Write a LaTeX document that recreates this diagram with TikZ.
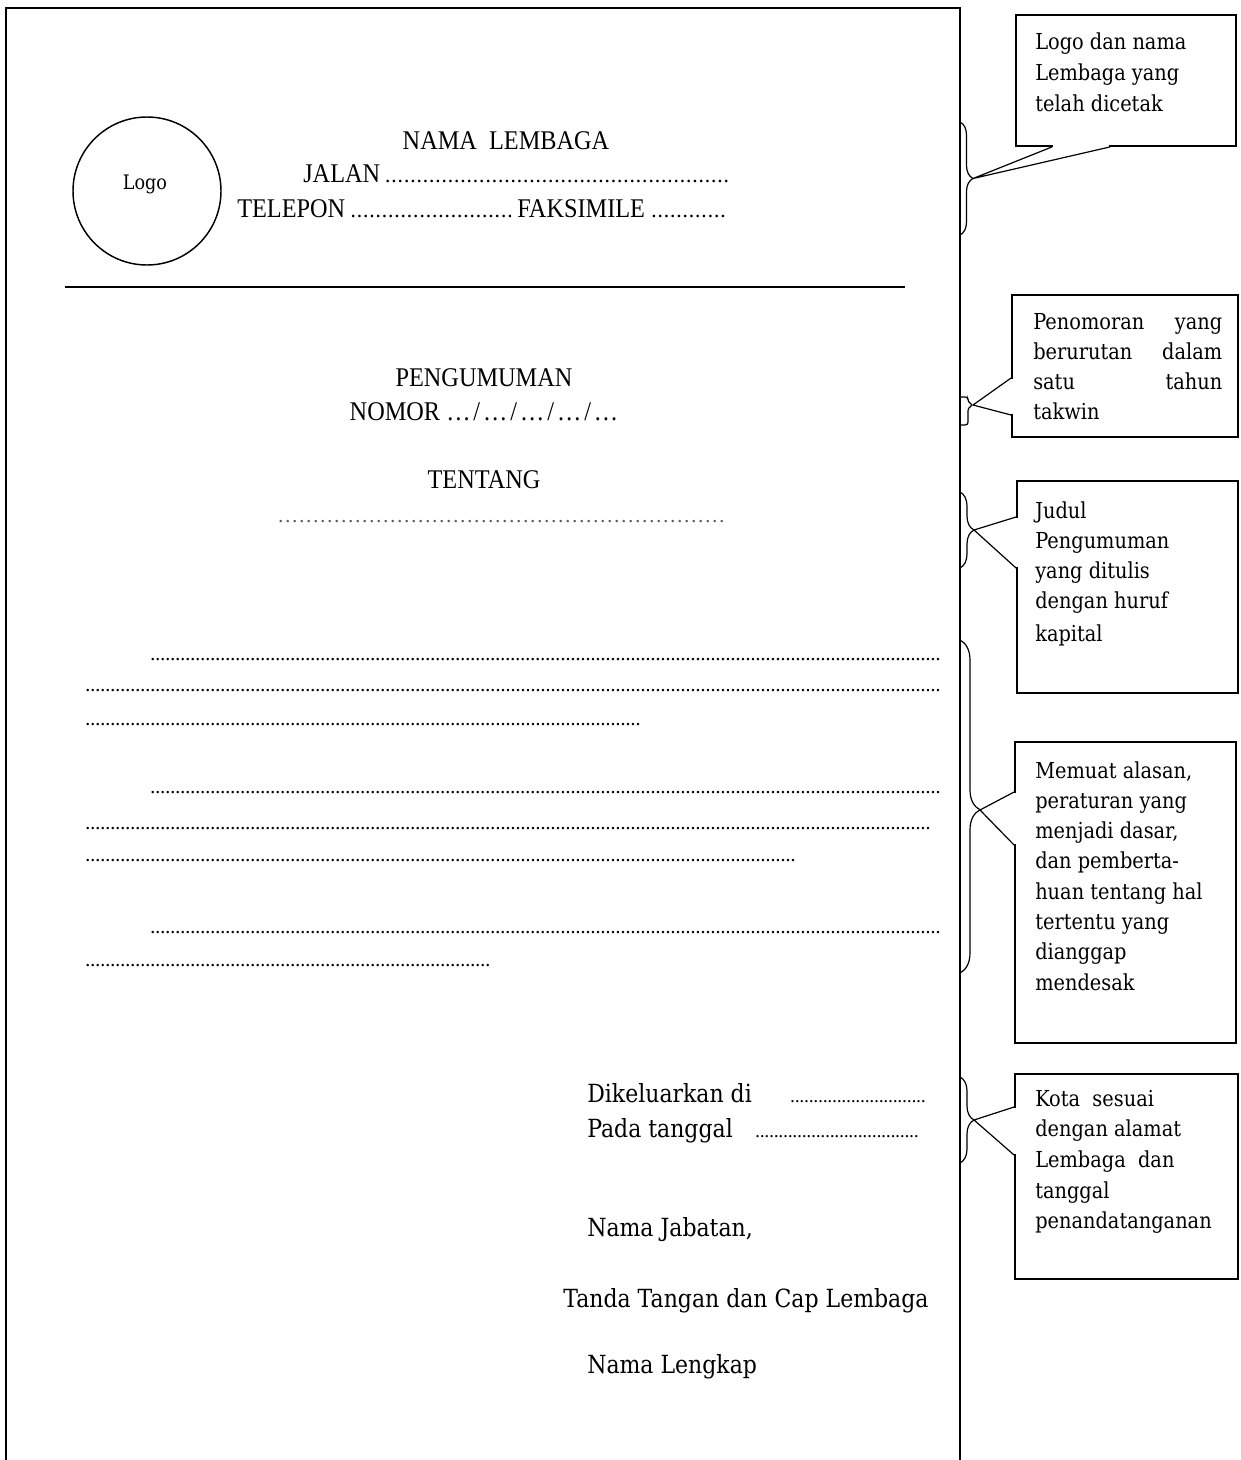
\documentclass[tikz,border=0pt]{standalone}
\usepackage{fontspec}
\setmainfont{Liberation Serif}
\newfontfamily\mainf[FakeStretch=0.9]{Liberation Serif}
\newfontfamily\callf[FakeStretch=0.88]{DejaVu Serif}
\newfontfamily\dotf{DejaVu Serif}
\usetikzlibrary{decorations.pathreplacing,fit}
\newcommand\dotlead[1]{\leaders\hbox to #1{\hss.\hss}\hfill}
\newcommand\hdots[1]{{\dotf\fontsize{15pt}{18pt}\selectfont\dotlead{#1}}}
\begin{document}
\begin{tikzpicture}[x=0.75pt,y=-0.75pt,
  hdr/.style={inner sep=0pt, anchor=base, font=\mainf\fontsize{20.25pt}{24pt}\selectfont},
  dotline/.style={inner sep=0pt, anchor=base west, font=\dotf\fontsize{14pt}{18pt}\selectfont},
  ctext/.style={inner sep=0pt, anchor=base west, font=\callf\fontsize{16.5pt}{20pt}\selectfont},
  sig/.style={inner sep=0pt, anchor=base west, font=\callf\fontsize{18.75pt}{22pt}\selectfont},
  cbox/.style={draw, line width=1.4pt, inner sep=0pt},
  brc/.style={decorate, line width=0.9pt},
  ptr/.style={line width=0.9pt, line join=miter},
]
\useasboundingbox (0,0) rectangle (1241,1460);
\fill[white] (0,0) rectangle (1241,1460);

% page frame
\draw[line width=1.5pt] (6,1460) -- (6,8) -- (960,8) -- (960,1460);

% letterhead
\node[draw, circle, line width=1.1pt, minimum size=111pt, inner sep=0pt] (logo) at (147,191) {};
\node[inner sep=0pt, font=\callf\fontsize{15pt}{18pt}\selectfont] (logotext) at (145,184) {Logo};
\node[hdr] (nama) at (506,149) {NAMA\ \ LEMBAGA};
\node[hdr, anchor=base west] (jalan) at (303,182) {\hbox to 324pt{JALAN\hdots{4.7pt}}};
\node[hdr, anchor=base west] (telp) at (237,217)
  {\hbox to 369.75pt{\hbox to 210pt{TELEPON\hdots{4.7pt}}FAKSIMILE\hdots{4.7pt}}};
\coordinate (rulea) at (65,287);
\coordinate (ruleb) at (905,287);
\draw[line width=1.9pt] (rulea) -- (ruleb);

% title
\node[hdr] (peng) at (484,386) {PENGUMUMAN};
\node[hdr] (nomor) at (484,420) {NOMOR\ \hbox to 129pt{…\hfil/\hfil…\hfil/\hfil…\hfil/\hfil…\hfil/\hfil…}};
\node[hdr] (tentang) at (484,488) {TENTANG};
\node[dotline, text=black!65] (tdots) at (277,522) {\hbox to 337.5pt{\dotlead{5.25pt}}};

% body dotted lines
\foreach \x/\y/\w [count=\i] in {150/660/592.5, 85/691/641.25, 85/725/418.5,
    150/793/592.5, 85/829/633.75, 85/861/532.5, 150/933/592.5, 85/966/303.75}
  \node[dotline] (d\i) at (\x,\y) {\hbox to \w pt{\dotlead{3.75pt}}};

% signature block
\node[sig] (dik) at (587,1102)
  {\hbox to 255.75pt{Dikeluarkan di\hfill\hbox to 103.5pt{\dotf\fontsize{13pt}{16pt}\selectfont\dotlead{3.5pt}}}};
\node[sig] (pada) at (587,1137)
  {\hbox to 251.25pt{Pada tanggal\hfill\hbox to 125.25pt{\dotf\fontsize{13pt}{16pt}\selectfont\dotlead{3.5pt}}}};
\node[sig] (jab) at (587,1236) {Nama Jabatan,};
\node[sig] (ttd) at (563,1307) {Tanda Tangan dan Cap Lembaga};
\node[sig] (lengkap) at (587,1373) {Nama Lengkap};

% braces
\draw[brc, decoration={brace, amplitude=9.75pt}] (960,122) -- (960,235);
\draw[line width=0.9pt, rounded corners=2pt] (960,397) -- (968,397) -- (968,402) -- (973,405) -- (968,408) -- (968,425) -- (960,425);
\draw[brc, decoration={brace, amplitude=10.5pt}] (960,492) -- (960,568);
\draw[brc, decoration={brace, amplitude=15pt, aspect=0.51}] (960,640) -- (960,973);
\draw[brc, decoration={brace, amplitude=10.5pt}] (960,1077) -- (960,1163);
\coordinate (t1) at (973,178.5);
\coordinate (t2) at (973,405);
\coordinate (t3) at (974,530);
\coordinate (t4) at (980,810);
\coordinate (t5) at (974,1120);

% callout boxes
\node[cbox, fit={(1016,15)(1236,146)}] (c1) {};
\node[cbox, fit={(1012,295)(1238,437)}] (c2) {};
\node[cbox, fit={(1017,481)(1238,693)}] (c3) {};
\node[cbox, fit={(1015,742)(1236,1043)}] (c4) {};
\node[cbox, fit={(1015,1074)(1238,1279)}] (c5) {};

% pointers
\fill[white] (1053,142) rectangle (1109,150);
\draw[ptr] (c1.south -| 1052,0) -- (t1) -- (c1.south -| 1110,0);
\fill[white] (1008,379) rectangle (1016,414);
\draw[ptr] (c2.west |- 0,378) -- (t2) -- (c2.west |- 0,415);
\fill[white] (1013,518) rectangle (1021,567);
\draw[ptr] (c3.west |- 0,517) -- (t3) -- (c3.west |- 0,568);
\fill[white] (1011,793) rectangle (1019,844);
\draw[ptr] (c4.west |- 0,792) -- (t4) -- (c4.west |- 0,845);
\fill[white] (1011,1108) rectangle (1019,1154);
\draw[ptr] (c5.west |- 0,1107) -- (t5) -- (c5.west |- 0,1155);

% callout texts
\foreach \t [count=\i from 0] in {{Logo dan nama},{Lembaga yang},{telah dicetak}}
  \node[ctext] (c1t\i) at (1035,49+31*\i) {\t};
\foreach \t [count=\i from 0] in {{\makebox[141.75pt][s]{Penomoran yang}},{\makebox[141.75pt][s]{berurutan dalam}},{\makebox[141.75pt][s]{satu tahun}},{takwin}}
  \node[ctext] (c2t\i) at (1033,329+30*\i) {\t};
\foreach \t [count=\i from 0] in {{Judul},{Pengumuman},{yang ditulis},{dengan huruf}}
  \node[ctext] (c3t\i) at (1035,518+30*\i) {\t};
\node[ctext] (c3t4) at (1035,641) {kapital};
\foreach \t [count=\i from 0] in {{Memuat alasan,},{peraturan yang},{menjadi dasar,},{dan pemberta-},{huan tentang hal},{tertentu yang},{dianggap},{mendesak}}
  \node[ctext] (c4t\i) at (1035,778+30.3*\i) {\t};
\foreach \t [count=\i from 0] in {{Kota\ \ sesuai},{dengan alamat},{Lembaga\ \ dan},{tanggal},{penandatanganan}}
  \node[ctext] (c5t\i) at (1035,1106+30.7*\i) {\t};
\end{tikzpicture}
\end{document}
